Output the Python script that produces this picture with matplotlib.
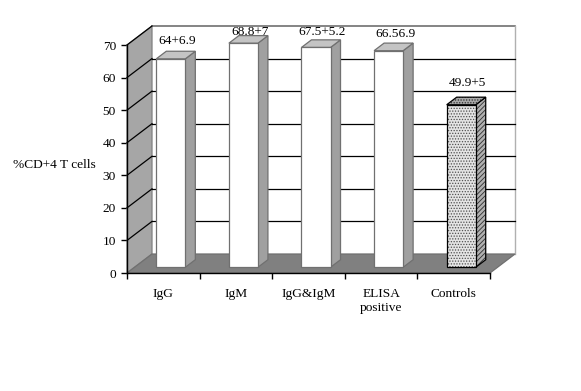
import matplotlib
matplotlib.use("Agg")
import matplotlib.pyplot as plt
from matplotlib.patches import Polygon

plt.rcParams['font.family'] = ['Liberation Serif', 'DejaVu Serif']
plt.rcParams['hatch.linewidth'] = 0.6

categories = ["IgG", "IgM", "IgG&IgM", "ELISA\npositive", "Controls"]
values = [64, 68.8, 67.5, 66.5, 49.9]
value_labels = ["64+6.9", "68.8+7", "67.5+5.2", "66.56.9", "49.9+5"]
y_ticks = [0, 10, 20, 30, 40, 50, 60, 70]
label_lift_px = [18, 11, 15, 17, 22]

W, H = 581, 391
fig = plt.figure(figsize=(W / 100, H / 100), dpi=100, facecolor="white")
ax = fig.add_axes([127 / W, (H - 273) / H, 363 / W, 228 / H])
ax.set_xlim(0, 5)
ax.set_ylim(0, 70)
ax.patch.set_visible(False)

DX = 25 / (363 / 5)      # depth shift in x units
DY = 19 / (228 / 70)     # depth shift in y units


def p(x, v, d=0.0):
    return (x + d * DX, v + d * DY)


def face(pts, fc, ec, z, lw=0.9, hatch=None, hatch_color=None):
    ax.add_patch(Polygon(pts, closed=True, facecolor=fc,
                         edgecolor=hatch_color if hatch else "none",
                         linewidth=0, hatch=hatch, zorder=z, clip_on=False))
    ax.add_patch(Polygon(pts, closed=True, facecolor="none", edgecolor=ec,
                         linewidth=lw, zorder=z, clip_on=False))


n = len(categories)
ymax = y_ticks[-1]

# back wall
face([p(0, 0, 1), p(n, 0, 1), p(n, ymax, 1), p(0, ymax, 1)], "white", "none", 1)
ax.plot(*zip(p(0, ymax, 1), p(n, ymax, 1)), color="#707070", lw=1.2, zorder=2, clip_on=False)
ax.plot(*zip(p(n, 0, 1), p(n, ymax, 1)), color="#b0b0b0", lw=1.0, zorder=2, clip_on=False)
# left wall
face([p(0, 0), p(0, 0, 1), p(0, ymax, 1), p(0, ymax)], "#a6a6a6", "#808080", 2)
# floor
face([p(0, 0), p(n, 0), p(n, 0, 1), p(0, 0, 1)], "#808080", "#707070", 2)
# grid
for t in y_ticks[1:]:
    ax.plot(*zip(p(0, t), p(0, t, 1)), color="black", lw=0.9, zorder=3, clip_on=False)
    if t < ymax:
        ax.plot(*zip(p(0, t, 1), p(n, t, 1)), color="black", lw=0.9, zorder=3, clip_on=False)

# bars
bw = 0.4
d0, d1 = 0.3, 0.7
for i, v in enumerate(values):
    l, r = i + 0.5 - bw / 2, i + 0.5 + bw / 2
    z = 5 + i
    ctrl = categories[i] == "Controls"
    ec = "black" if ctrl else "#707070"
    face([p(r, 0, d0), p(r, 0, d1), p(r, v, d1), p(r, v, d0)],
         "#b0b0b0" if ctrl else "#a0a0a0", ec, z,
         hatch="///////" if ctrl else None, hatch_color="#303030")
    face([p(l, v, d0), p(r, v, d0), p(r, v, d1), p(l, v, d1)],
         "#a8a8a8" if ctrl else "#c4c4c4", ec, z,
         hatch="......" if ctrl else None, hatch_color="#303030")
    face([p(l, 0, d0), p(r, 0, d0), p(r, v, d0), p(l, v, d0)],
         "#e4e4e4" if ctrl else "white", ec, z + 0.1,
         hatch="......" if ctrl else None, hatch_color="#505050")
    ax.annotate(value_labels[i], xy=p(i + 0.5, v, d0), xytext=(6.5 * 0.72, label_lift_px[i] * 0.72),
                textcoords="offset points", ha="center", va="center",
                fontsize=9.6, color="black", zorder=4, annotation_clip=False)

# axes
for s in ("top", "right"):
    ax.spines[s].set_visible(False)
for s in ("left", "bottom"):
    ax.spines[s].set_linewidth(1.0)
    ax.spines[s].set_zorder(20)
ax.set_yticks(y_ticks)
ax.tick_params(axis="y", length=4, width=1.0, pad=4, labelsize=9.6)
ax.set_xticks(range(n + 1))
ax.set_xticklabels([])
ax.tick_params(axis="x", which="major", length=4, width=1.0)
ax.set_xticks([i + 0.5 for i in range(n)], minor=True)
ax.set_xticklabels(categories, minor=True, fontsize=9.6, linespacing=1.2)
ax.tick_params(axis="x", which="minor", length=0, pad=11)
ax.set_ylabel("%CD+4 T cells", rotation=0, fontsize=9.6, ha="center", va="center")
ax.yaxis.set_label_coords((54.5 - 127) / 363, (273 - 165) / 228)

fig.savefig("out.png", dpi=100, facecolor="white")
